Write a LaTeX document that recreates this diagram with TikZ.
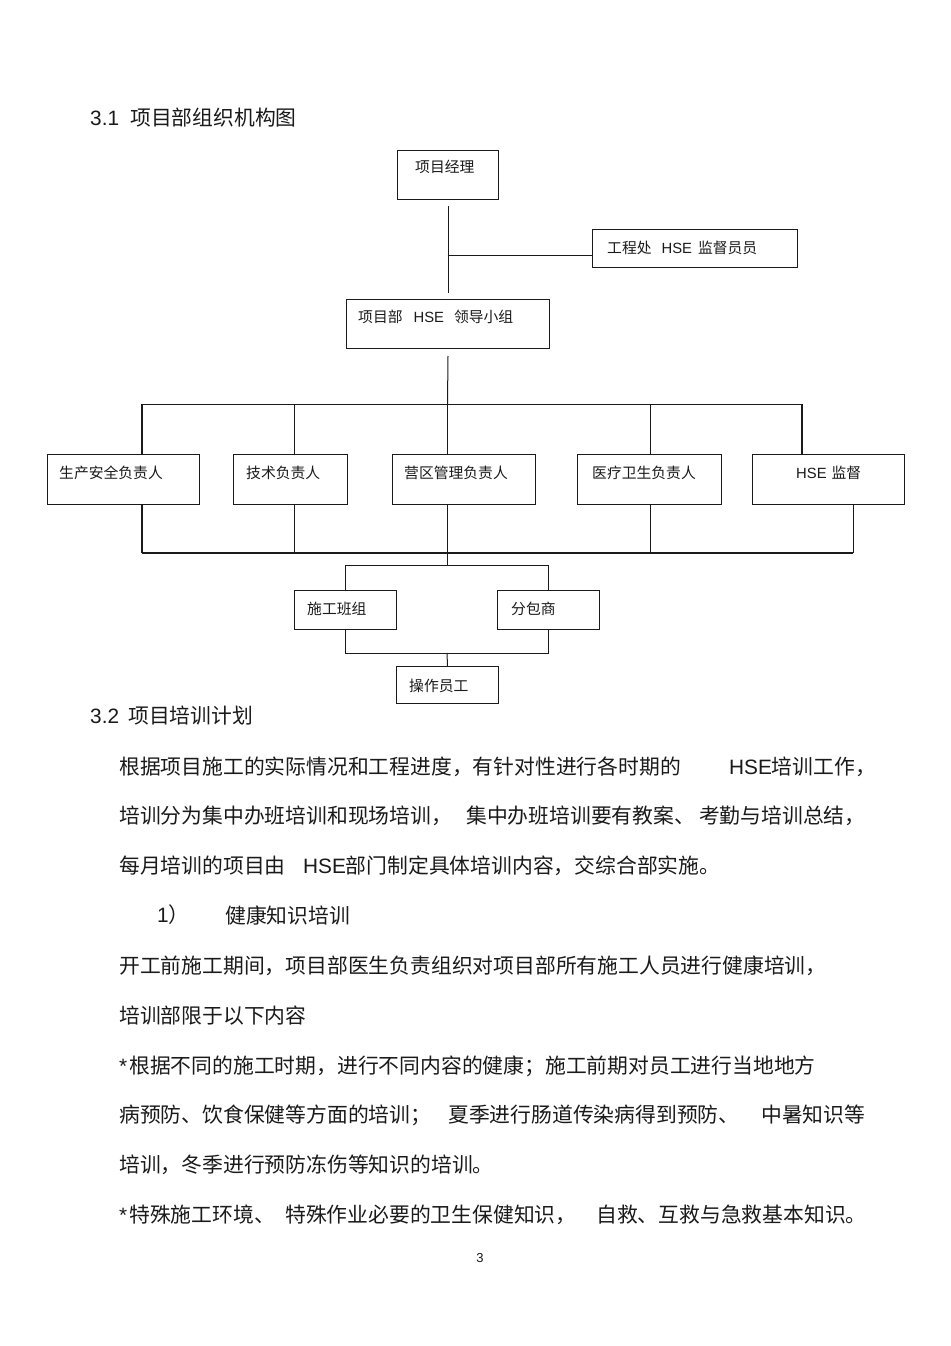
\documentclass[tikz,border=0pt]{standalone}
\usepackage{fontspec}
\setmainfont{Noto Sans CJK SC}
\newfontfamily\lat{Liberation Sans}
\usetikzlibrary{calc}
\definecolor{ink}{HTML}{1A1A1A}
\begin{document}
\begin{tikzpicture}[x=1pt,y=-1pt,
  box/.style={draw=ink, line width=1pt, inner sep=0pt, anchor=north west},
  lab/.style={anchor=west, inner sep=0pt, text=ink, font=\fontsize{14.8}{15}\selectfont},
  body/.style={anchor=west, inner sep=0pt, text=ink, font=\fontsize{20.8}{21}\selectfont},
  conn/.style={draw=ink, line width=1pt},
  busln/.style={draw=ink, line width=1.8pt}]
\useasboundingbox[fill=white] (0,0) rectangle (950,1346);

% ---------- headings ----------
\node[body] (h31n) at (90,118) {\lat 3.1};
\node[body] (h31) at (130,118) {项目部组织机构图};

% ---------- boxes ----------
\node[box, minimum width=101pt, minimum height=49pt] (pm)  at (397,150) {};
\node[box, minimum width=205pt, minimum height=38pt] (sup) at (592,229) {};
\node[box, minimum width=203pt, minimum height=49pt] (lg)  at (346,299) {};
\node[box, minimum width=152pt, minimum height=50pt] (b1)  at (47,454) {};
\node[box, minimum width=114pt, minimum height=50pt] (b2)  at (233,454) {};
\node[box, minimum width=143pt, minimum height=50pt] (b3)  at (392,454) {};
\node[box, minimum width=144pt, minimum height=50pt] (b4)  at (577,454) {};
\node[box, minimum width=152pt, minimum height=50pt] (b5)  at (752,454) {};
\node[box, minimum width=102pt, minimum height=39pt] (sg)  at (294,590) {};
\node[box, minimum width=102pt, minimum height=39pt] (fb)  at (497,590) {};
\node[box, minimum width=102pt, minimum height=37pt] (op)  at (396,666) {};

% ---------- box labels ----------
\node[lab] (tpm)  at (415,167) {项目经理};
\node[lab] (tsup) at (607,248) {工程处\hspace{10pt}{\lat HSE}\hspace{6pt}监督员员};
\node[lab] (tlg)  at (358,317) {项目部\hspace{11pt}{\lat HSE}\hspace{10pt}领导小组};
\node[lab] (tb1)  at (59,473)  {生产安全负责人};
\node[lab] (tb2)  at (246,473) {技术负责人};
\node[lab] (tb3)  at (404,473) {营区管理负责人};
\node[lab] (tb4)  at (592,473) {医疗卫生负责人};
\node[lab] (tb5)  at (796,473) {{\lat HSE}\hspace{5pt}监督};
\node[lab] (tsg)  at (307,609) {施工班组};
\node[lab] (tfb)  at (511,609) {分包商};
\node[lab] (top)  at (409,686) {操作员工};

% ---------- connectors ----------
\coordinate (j1) at (447.5,255);
\draw[conn] ($(pm.south)+(0,6)$) -- ($(lg.north)+(0,-6)$);
\draw[conn] (j1) -- (j1 -| sup.west);

\coordinate (tb) at (447.5,404);
\coordinate (t1) at (142,404);
\coordinate (t2) at (294,404);
\coordinate (t4) at (650,404);
\coordinate (t5) at (802,404);
\draw[conn] ($(lg.south)+(0,7)$) -- (tb);
\draw[conn] (t1) -- (t5);
\draw[busln] (t1) -- (t1 |- b1.north);
\draw[conn] (t2) -- (t2 |- b2.north);
\draw[conn] (tb) -- (tb |- b3.north);
\draw[conn] (t4) -- (t4 |- b4.north);
\draw[busln] (t5) -- (t5 |- b5.north);

\coordinate (u1) at (142,553);
\coordinate (u2) at (294,553);
\coordinate (u3) at (447,553);
\coordinate (u4) at (650,553);
\coordinate (u5) at (853,553);
\draw[busln] (b1.south -| u1) -- (u1);
\draw[conn] (b2.south -| u2) -- (u2);
\draw[conn] (b3.south -| u3) -- (u3);
\draw[conn] (b4.south -| u4) -- (u4);
\draw[conn] (b5.south -| u5) -- (u5);
\draw[busln] (u1) -- (u5);

\coordinate (m)  at (447,565);
\coordinate (ml) at (345,565);
\coordinate (mr) at (548,565);
\draw[conn] (u3) -- (m);
\draw[conn] (ml |- sg.north) -- (ml) -- (mr) -- (mr |- fb.north);

\coordinate (n)  at (447,653);
\coordinate (nl) at (345,653);
\coordinate (nr) at (548,653);
\draw[conn] (sg.south -| nl) -- (nl) -- (nr) -- (fb.south -| nr);
\draw[conn] (n) -- (op.north);

% ---------- section 3.2 ----------
\node[body] (h32n) at (90,716) {\lat 3.2};
\node[body] (h32) at (128,716) {项目培训计划};

\node[body] (p1a) at (119,767) {根据项目施工的实际情况和工程进度，有针对性进行各时期的};
\node[body] (p1b) at (729,767) {{\lat HSE}培训工作，};
\node[body] (p2a) at (119,816) {培训分为集中办班培训和现场培训，};
\node[body] (p2b) at (466,816) {集中办班培训要有教案、\hspace{4pt}考勤与培训总结，};
\node[body] (p3a) at (119,866) {每月培训的项目由};
\node[body] (p3b) at (303,866) {{\lat HSE}部门制定具体培训内容，交综合部实施。};

\node[body] (l1n) at (157,915) {{\lat 1}）};
\node[body] (l1)  at (225,915) {健康知识培训};

\node[body] (q1) at (119,966)  {开工前施工期间，项目部医生负责组织对项目部所有施工人员进行健康培训，};
\node[body] (q2) at (119,1016) {培训部限于以下内容};
\node[body] (q3) at (119,1066) {{\lat *}\hspace{2pt}根据不同的施工时期，进行不同内容的健康；施工前期对员工进行当地地方};
\node[body] (q4a) at (119,1115) {病预防、饮食保健等方面的培训；};
\node[body] (q4b) at (448,1115) {夏季进行肠道传染病得到预防、};
\node[body] (q4c) at (761,1115) {中暑知识等};
\node[body] (q5) at (119,1165) {培训，冬季进行预防冻伤等知识的培训。};
\node[body] (q6a) at (119,1215) {{\lat *}\hspace{2pt}特殊施工环境、};
\node[body] (q6b) at (285,1215) {特殊作业必要的卫生保健知识，};
\node[body] (q6c) at (596,1215) {自救、互救与急救基本知识。};

\node[anchor=center, inner sep=0pt, text=ink, font=\lat\fontsize{13}{14}\selectfont] (pg) at (480,1258) {3};
\end{tikzpicture}
\end{document}
